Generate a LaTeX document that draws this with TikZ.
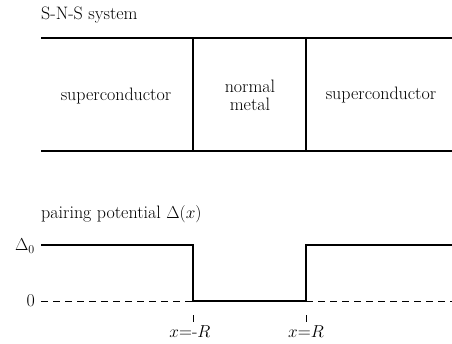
\documentclass[tikz,border=0pt]{standalone}
\begin{document}
\begin{tikzpicture}[x=1pt,y=-1pt,
  lbl/.style={font=\fontsize{18}{18}\selectfont, inner sep=0pt},
  solidline/.style={line width=1.3pt},
  dashline/.style={line width=0.7pt, dash pattern=on 7pt off 5pt}]
\useasboundingbox (0,0) rectangle (452,343);
% top: S-N-S system
\node[lbl, anchor=west] (title) at (41,15) {S-N-S system};
\coordinate (tl) at (41,38);
\coordinate (tr) at (452,38);
\coordinate (bl) at (41,151);
\coordinate (br) at (452,151);
\coordinate (v1t) at (193,38);
\coordinate (v1b) at (193,151);
\coordinate (v2t) at (306,38);
\coordinate (v2b) at (306,151);
\draw[solidline] (tl) -- (tr);
\draw[solidline] (bl) -- (br);
\draw[solidline] (v1t) -- (v1b);
\draw[solidline] (v2t) -- (v2b);
\node[lbl] (sc1) at (116,96) {superconductor};
\node[lbl, align=center] (nm) at (250,95) {normal\\metal};
\node[lbl] (sc2) at (381,95) {superconductor};
% bottom: pairing potential
\node[lbl, anchor=west] (pp) at (41,214) {pairing potential $\Delta(x)$};
\node[lbl, anchor=east] (d0) at (35,246) {$\Delta_0$};
\node[lbl, anchor=east] (zero) at (35,301) {0};
\coordinate (a0) at (41,245);
\coordinate (a1) at (193,245);
\coordinate (a2) at (193,301);
\coordinate (a3) at (306,301);
\coordinate (a4) at (306,245);
\coordinate (a5) at (452,245);
\draw[solidline] (a0) -- (a1) -- (a2) -- (a3) -- (a4) -- (a5);
\coordinate (z0) at (41,301);
\coordinate (z1) at (452,301);
\draw[dashline] (z0) -- (a2);
\draw[dashline] (a3) -- (z1);
\coordinate (t1a) at (193,315);
\coordinate (t1b) at (193,322);
\coordinate (t2a) at (306,315);
\coordinate (t2b) at (306,322);
\draw[line width=0.7pt] (t1a) -- (t1b);
\draw[line width=0.7pt] (t2a) -- (t2b);
\node[lbl] (xm) at (190,332) {$x$=-$R$};
\node[lbl] (xp) at (306,332) {$x$=$R$};
\end{tikzpicture}
\end{document}
